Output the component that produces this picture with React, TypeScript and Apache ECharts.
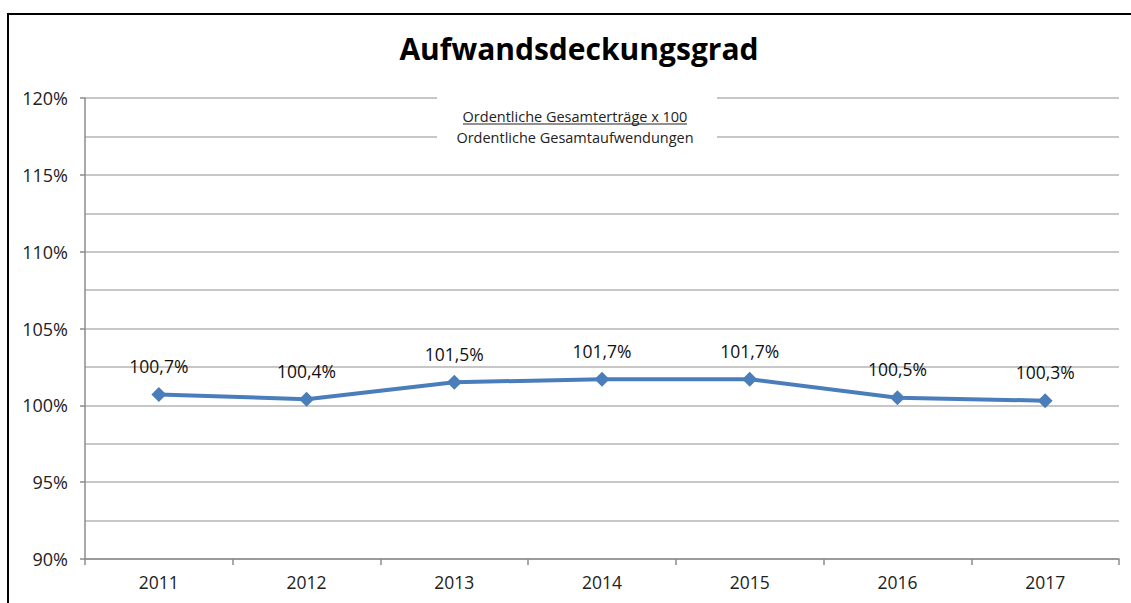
import React, { useEffect, useRef } from "react";
import * as echarts from "echarts";

const years = ["2011", "2012", "2013", "2014", "2015", "2016", "2017"];
const values = [100.7, 100.4, 101.5, 101.7, 101.7, 100.5, 100.3];
const titleText = "Aufwandsdeckungsgrad";
const formulaTop = "Ordentliche Gesamterträge x 100";
const formulaBottom = "Ordentliche Gesamtaufwendungen";

const FONT = "'Open Sans', 'Noto Sans', sans-serif";

export default function App() {
  const ref = useRef<HTMLDivElement>(null);
  useEffect(() => {
    if (!ref.current) return;
    const chart = echarts.init(ref.current, undefined, { renderer: "svg" });
    chart.setOption({
      animation: false,
      backgroundColor: "#ffffff",
      textStyle: { fontFamily: FONT },
      title: {
        text: titleText,
        left: 574,
        textAlign: "center",
        top: 28,
        textStyle: { fontFamily: FONT, fontWeight: "bold", fontSize: 30, color: "#000" },
      },
      grid: { left: 85, right: 12, top: 98, bottom: 44, containLabel: false },
      xAxis: {
        type: "category",
        data: years,
        boundaryGap: true,
        axisLine: { lineStyle: { color: "#8c8c8c", width: 1.5 } },
        axisTick: { show: true, length: 6, alignWithLabel: false, lineStyle: { color: "#8c8c8c", width: 1.5 } },
        axisLabel: { color: "#222", fontSize: 17.5, margin: 14, fontFamily: FONT },
        splitLine: { show: false },
      },
      yAxis: {
        type: "value",
        min: 90,
        max: 120,
        interval: 5,
        axisLine: { show: true, lineStyle: { color: "#8c8c8c", width: 1.5 } },
        axisTick: { show: true, length: 5, lineStyle: { color: "#8c8c8c", width: 1.5 } },
        axisLabel: { color: "#222", fontSize: 18, margin: 17, fontFamily: FONT, formatter: (v: number) => v + "%" },
        splitLine: { show: true, lineStyle: { color: "#b5b5b5", width: 1.5 } },
        minorTick: { show: false, splitNumber: 2 },
        minorSplitLine: { show: true, lineStyle: { color: "#b5b5b5", width: 1.5 } },
      },
      series: [
        {
          type: "line",
          data: values,
          symbol: "diamond",
          symbolSize: 15,
          lineStyle: { color: "#4a7ebb", width: 4 },
          itemStyle: { color: "#4a7ebb" },
          label: {
            show: true,
            position: "top",
            distance: 12,
            fontSize: 17.5,
            color: "#111",
            fontFamily: FONT,
            formatter: (p: any) => p.value.toFixed(1).replace(".", ",") + "%",
          },
        },
      ],
      graphic: [
        {
          type: "rect",
          shape: { x: 8, y: 14, width: 1200, height: 700 },
          style: { fill: "none", stroke: "#000", lineWidth: 2 },
          silent: true,
        },
        {
          type: "rect",
          shape: { x: 437, y: 92, width: 280, height: 56 },
          style: { fill: "#fff" },
          silent: true,
          z: 10,
        },
        {
          type: "text",
          x: 575,
          y: 116,
          style: { text: formulaTop, fontSize: 14.5, fontFamily: FONT, fill: "#222", align: "center", verticalAlign: "middle" },
          z: 11,
        },
        {
          type: "line",
          shape: { x1: 463, y1: 124, x2: 687, y2: 124 },
          style: { stroke: "#222", lineWidth: 1 },
          z: 11,
        },
        {
          type: "text",
          x: 575,
          y: 137,
          style: { text: formulaBottom, fontSize: 14.5, fontFamily: FONT, fill: "#222", align: "center", verticalAlign: "middle" },
          z: 11,
        },
      ],
    });
    return () => chart.dispose();
  }, []);
  return (
    <div
      ref={ref}
      style={{ position: "absolute", left: 0, top: 0, width: 1131, height: 603 }}
    />
  );
}
